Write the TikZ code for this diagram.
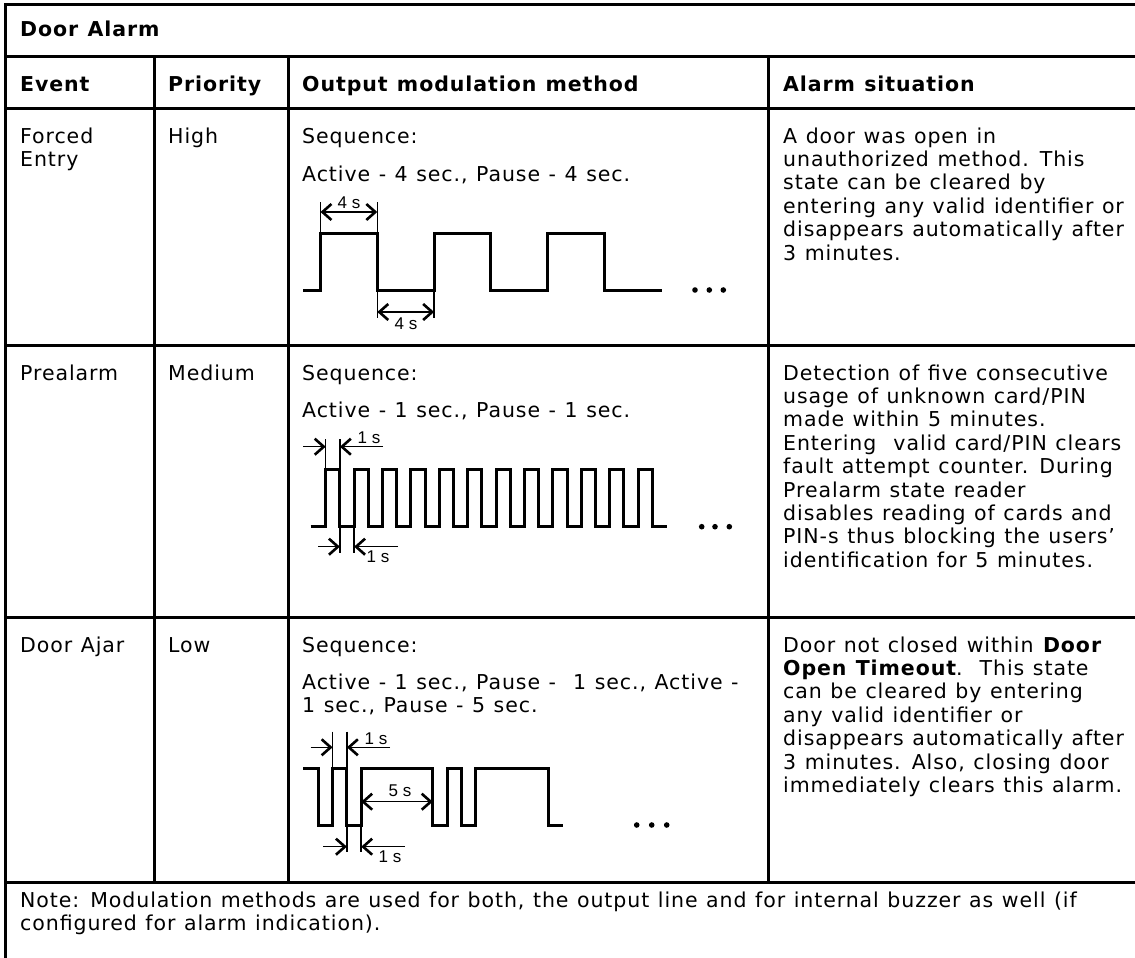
\documentclass[tikz,border=0pt]{standalone}
\usepackage{fontspec}
\setmainfont[LetterSpace=4.5,WordSpace=1.15]{DejaVu Sans}
\newfontfamily\dimfont{Liberation Sans}
\usetikzlibrary{arrows.meta,positioning}

\tikzset{
  grid/.style={line width=3pt},
  wave/.style={line width=3pt, line join=miter},
  dimline/.style={line width=1.5pt},
  barb/.tip={Straight Barb[length=9pt,width=16pt,line width=2.6pt]},
  dimarrow/.style={line width=1.5pt, -barb},
  dimboth/.style={line width=1.5pt, barb-barb},
  dimlabel/.style={font=\dimfont\fontsize{17}{17}\selectfont, inner sep=0pt},
  % multi-line cells: the node sits on the baseline of its last line
  cell/.style={anchor=base west, inner sep=0pt, align=left, font=\fontsize{20.5}{23.4}\selectfont},
  head/.style={cell, font=\bfseries\fontsize{20.5}{23.4}\selectfont},
}

\begin{document}
\begin{tikzpicture}[x=1pt,y=-1pt]
  \useasboundingbox (0,0) rectangle (1135,958);

  % table frame
  \draw[grid] (5,958) -- (5,5) -- (1135,5);
  \foreach \y in {57,108,345,617,882}
    \draw[grid] (5,\y) -- (1135,\y);
  \foreach \x in {154,288,768}
    \draw[grid] (\x,57) -- (\x,882);

  % headings
  \node[head] (title) at (20,37) {Door Alarm};
  \node[head] (hevent) at (20,92) {Event};
  \node[head] (hprio) at (168,92) {Priority};
  \node[head] (hmod) at (302,92) {Output modulation method};
  \node[head] (hsit) at (783,92) {Alarm situation};

  % forced entry
  \node[cell] (ev1) at (20,166.4) {Forced\\Entry};
  \node[cell] (pr1) at (168,143) {High};
  \node[cell] (seq1) at (302,143) {Sequence:};
  \node[cell] (act1) at (302,181) {Active - 4 sec., Pause - 4 sec.};
  \node[cell] (sit1) at (783,260) {A door was open in\\unauthorized method. This\\state can be cleared by\\entering any valid identifier or\\disappears automatically after\\3 minutes.};

  \draw[wave] (303,290) -- (320.5,290) -- (320.5,233) -- (377.3,233) -- (377.3,290)
    -- (434.1,290) -- (434.1,233) -- (490.9,233) -- (490.9,290) -- (547.7,290)
    -- (547.7,233) -- (604.5,233) -- (604.5,290) -- (662,290);
  \draw[dimline] (320.5,202) -- (320.5,233) (377.3,202) -- (377.3,233);
  \draw[dimboth] (320.5,212) -- (377.3,212);
  \node[dimlabel] (d1a) at (349,203) {4 s};
  \draw[dimline] (377.3,290) -- (377.3,318) (434.1,290) -- (434.1,318);
  \draw[dimboth] (377.3,312) -- (434.1,312);
  \node[dimlabel] (d1b) at (406,324) {4 s};
  \foreach \x in {695,709.3,723.3}
    \fill (\x,290) circle[radius=2.8pt];

  % prealarm
  \node[cell] (ev2) at (20,380) {Prealarm};
  \node[cell] (pr2) at (168,380) {Medium};
  \node[cell] (seq2) at (302,380) {Sequence:};
  \node[cell] (act2) at (302,417.5) {Active - 1 sec., Pause - 1 sec.};
  \node[cell] (sit2) at (783,567.2) {Detection of five consecutive\\usage of unknown card/PIN\\made within 5 minutes.\\Entering\ \ valid card/PIN clears\\fault attempt counter. During\\Prealarm state reader\\disables reading of cards and\\PIN-s thus blocking the users’\\identification for 5 minutes.};

  \draw[wave] (310.7,526.7) -- (325.7,526.7)
    \foreach \k in {1,...,12} { -- ++(0,-57.4) -- ++(14.2,0) -- ++(0,57.4) -- ++(14.2,0) };
  \draw[dimline] (325.7,439) -- (325.7,469.3) (339.9,439) -- (339.9,469.3);
  \draw[dimarrow] (303,446.7) -- (325.7,446.7);
  \draw[dimarrow] (383,446.7) -- (339.9,446.7);
  \node[dimlabel] (d2a) at (369,437.5) {1 s};
  \draw[dimline] (339.9,526.7) -- (339.9,553) (354.1,526.7) -- (354.1,553);
  \draw[dimarrow] (318,546.7) -- (339.9,546.7);
  \draw[dimarrow] (398,546.7) -- (354.1,546.7);
  \node[dimlabel] (d2b) at (378,557) {1 s};
  \foreach \x in {701.7,715,729.3}
    \fill (\x,526.7) circle[radius=2.8pt];

  % door ajar
  \node[cell] (ev3) at (20,652) {Door Ajar};
  \node[cell] (pr3) at (168,652) {Low};
  \node[cell] (seq3) at (302,652) {Sequence:};
  \node[cell] (act3) at (302,712.9) {Active - 1 sec., Pause -\ \ 1 sec., Active -\\1 sec., Pause - 5 sec.};
  \node[cell] (sit3) at (783,792.4) {Door not closed within \textbf{Door}\\\textbf{Open Timeout}.\ \ This state\\can be cleared by entering\\any valid identifier or\\disappears automatically after\\3 minutes. Also, closing door\\immediately clears this alarm.};

  \draw[wave] (303.3,768.3) -- (318.3,768.3) -- (318.3,825) -- (332.6,825) -- (332.6,768.3)
    -- (346.9,768.3) -- (346.9,825) -- (361.2,825) -- (361.2,768.3) -- (432.7,768.3)
    -- (432.7,825) -- (447,825) -- (447,768.3) -- (461.3,768.3) -- (461.3,825)
    -- (475.6,825) -- (475.6,768.3) -- (548,768.3) -- (548,825) -- (563.3,825);
  \draw[dimline] (332.6,731.7) -- (332.6,768.3) (346.9,731.7) -- (346.9,768.3);
  \draw[dimarrow] (310.7,747.3) -- (332.6,747.3);
  \draw[dimarrow] (390,747.3) -- (346.9,747.3);
  \node[dimlabel] (d3a) at (376,738.5) {1 s};
  \draw[dimboth] (361.2,801.7) -- (432.7,801.7);
  \node[dimlabel] (d3b) at (400,791) {5 s};
  \draw[dimline] (346.9,825) -- (346.9,852) (361.2,825) -- (361.2,852);
  \draw[dimarrow] (323,846.7) -- (346.9,846.7);
  \draw[dimarrow] (405,846.7) -- (361.2,846.7);
  \node[dimlabel] (d3c) at (390,857) {1 s};
  \foreach \x in {636.7,651.7,666.7}
    \fill (\x,825) circle[radius=2.8pt];

  % note
  \node[cell] (note) at (20,930.4) {Note: Modulation methods are used for both, the output line and for internal buzzer as well (if\\configured for alarm indication).};
\end{tikzpicture}
\end{document}
